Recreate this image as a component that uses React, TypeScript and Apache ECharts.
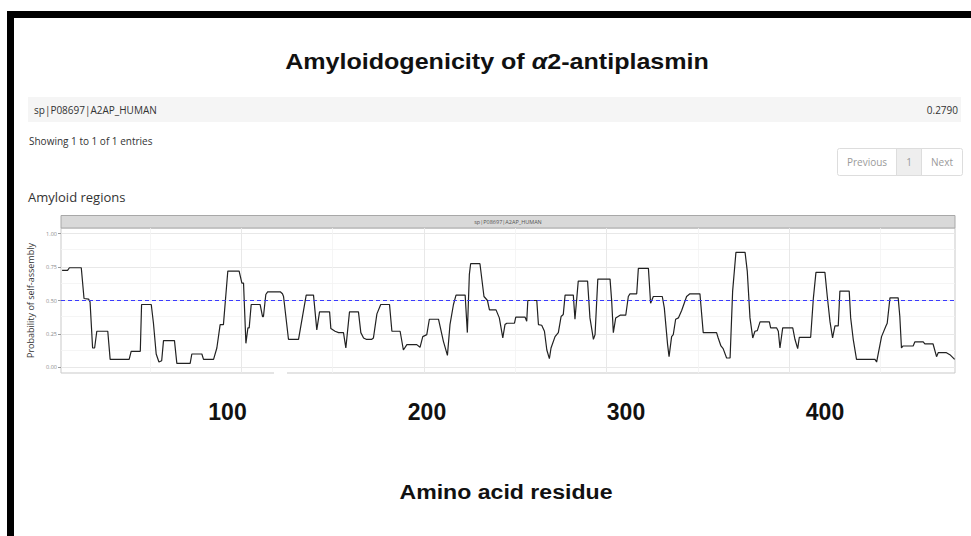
import React, { useEffect, useRef } from "react";
import * as echarts from "echarts";

// Residue positions (x) and probability of self-assembly (y)
const residues = [
  2, 5, 6, 12.5, 14, 16.5, 17.3, 18.7, 19.8, 21, 27, 28.3, 38.7, 39.8, 44.8, 45.5, 50.8, 52, 53.5, 55,
  56.5, 57.5, 63.5, 64.8, 72.1, 73, 78.5, 79.4, 84.9, 86.7, 88.5, 90.3, 92.7, 98.9, 100.4, 101.3, 102.6,
  103.7, 104.4, 105.5, 110.4, 111.7, 112.2, 113.5, 114.5, 121.4, 122.6, 123.2, 125.9, 131.4, 135.6, 139.6,
  141.4, 142.9, 148.4, 149.1, 151.4, 153.3, 156.0, 157.3, 159.3, 164.2, 165.5, 167.0, 168.4, 171.5, 172.4,
  174.3, 176.4, 181.2, 182.5, 187.0, 188.8, 190.7, 196.1, 197.9, 199.4, 201.6, 203.0, 208.0, 210.7, 212.9,
  214.3, 216.2, 217.6, 222.6, 223.8, 224.9, 225.6, 230.7, 232.9, 234.8, 235.9, 239.5, 241.3, 243.2, 244.4,
  245.4, 249.6, 250.3, 255.4, 256.3, 256.9, 261.8, 262.7, 264.5, 266.0, 267.3, 268.7, 269.6, 271.8, 273.6,
  275.1, 276.3, 277.3, 281.8, 282.7, 284.5, 289.6, 290.9, 292.8, 293.7, 295.2, 301.9, 302.8, 303.7, 305.0,
  307.4, 310.5, 311.9, 312.8, 316.5, 317.4, 322.9, 324.1, 325.6, 330.5, 331.6, 333.4, 334.2, 335.6, 336.5,
  337.8, 339.3, 341.1, 343.8, 345.6, 351.1, 352.9, 360.2, 361.1, 362.6, 363.8, 365.7, 367.6, 369.0, 370.8,
  375.8, 377.0, 378.5, 380.0, 381.2, 382.5, 384.0, 389.1, 389.8, 393.1, 394.0, 394.9, 396.4, 401.9, 403.1,
  404.6, 405.5, 411.7, 413.2, 414.6, 419.5, 420.8, 422.3, 423.7, 425.0, 426.8, 427.7, 432.8, 433.6, 435.0,
  436.8, 446.9, 447.8, 450.5, 452.9, 453.6, 455.1, 459.6, 460.5, 461.4, 462.3, 467.8, 468.7, 473.3, 474.2,
  478.7, 480.6, 481.5, 486.0, 487.9, 490.5,
];
const probabilities = [
  0.725, 0.725, 0.745, 0.745, 0.515, 0.51, 0.49, 0.145, 0.145, 0.27, 0.27, 0.06, 0.06, 0.12, 0.12, 0.47, 0.47, 0.33, 0.1, 0.04,
  0.05, 0.2, 0.2, 0.03, 0.03, 0.1, 0.1, 0.06, 0.06, 0.145, 0.32, 0.32, 0.72, 0.72, 0.63, 0.63, 0.18,
  0.295, 0.295, 0.47, 0.47, 0.38, 0.38, 0.545, 0.565, 0.565, 0.55, 0.53, 0.21, 0.21, 0.54, 0.54,
  0.28, 0.415, 0.415, 0.29, 0.27, 0.26, 0.26, 0.145, 0.415, 0.415, 0.26, 0.22, 0.21, 0.21, 0.22,
  0.4, 0.47, 0.47, 0.27, 0.27, 0.13, 0.17, 0.17, 0.15, 0.23, 0.245, 0.36, 0.36, 0.195, 0.09,
  0.32, 0.47, 0.54, 0.54, 0.26, 0.695, 0.775, 0.775, 0.53, 0.5, 0.43, 0.43, 0.37, 0.22, 0.32,
  0.33, 0.33, 0.375, 0.375, 0.345, 0.5, 0.5, 0.32, 0.315, 0.27, 0.13, 0.065, 0.145, 0.23, 0.26,
  0.38, 0.395, 0.54, 0.54, 0.36, 0.645, 0.645, 0.37, 0.21, 0.245, 0.66, 0.66, 0.495, 0.26, 0.37,
  0.39, 0.39, 0.53, 0.55, 0.55, 0.74, 0.74, 0.48, 0.53, 0.53, 0.445, 0.17, 0.08, 0.23, 0.245,
  0.36, 0.37, 0.425, 0.53, 0.55, 0.55, 0.26, 0.26, 0.22, 0.16, 0.14, 0.07, 0.07, 0.57, 0.86,
  0.86, 0.72, 0.37, 0.22, 0.27, 0.275, 0.34, 0.34, 0.295, 0.295, 0.27, 0.145, 0.295, 0.295, 0.21,
  0.14, 0.225, 0.225, 0.52, 0.71, 0.71, 0.53, 0.34, 0.22, 0.31, 0.31, 0.57, 0.57, 0.37, 0.21,
  0.06, 0.06, 0.04, 0.23, 0.31, 0.33, 0.52, 0.52, 0.38, 0.145, 0.16, 0.16, 0.19, 0.19, 0.175,
  0.175, 0.08, 0.11, 0.11, 0.095, 0.06,
];

const threshold = 0.5;
const yTicks = [0, 0.25, 0.5, 0.75, 1];
const yMinorGrid = [0.125, 0.375, 0.625, 0.875];
const xTicks = [100, 200, 300, 400];
const xMinorGrid = [50, 150, 250, 350, 450];
const bigTickLabels = ["100", "200", "300", "400"];

const titleText = "Amyloidogenicity of ";
const titleGreek = "α";
const titleRest = "2-antiplasmin";
const proteinId = "sp|P08697|A2AP_HUMAN";
const proteinScore = "0.2790";

export default function App() {
  const ref = useRef<HTMLDivElement>(null);

  useEffect(() => {
    if (!ref.current) return;
    const chart = echarts.init(ref.current, null, { renderer: "svg" });
    const lineData = residues.map((r, i) => [r, probabilities[i]]);
    const sans = "'Open Sans', 'Noto Sans', sans-serif";
    const arial = "'Liberation Sans', Arial, sans-serif";
    const bigX = [227.5, 427, 626, 825];

    const gridLines: any[] = [];
    yTicks.forEach((v) => gridLines.push({ yAxis: v, lineStyle: { color: "#e8e8e8", width: 1, type: "solid" } }));
    yMinorGrid.forEach((v) => gridLines.push({ yAxis: v, lineStyle: { color: "#f3f3f3", width: 0.8, type: "solid" } }));
    xTicks.forEach((v) => gridLines.push({ xAxis: v, lineStyle: { color: "#e8e8e8", width: 1, type: "solid" } }));
    xMinorGrid.forEach((v) => gridLines.push({ xAxis: v, lineStyle: { color: "#f3f3f3", width: 0.8, type: "solid" } }));

    const option: any = {
      animation: false,
      backgroundColor: "#ffffff",
      grid: {
        left: 61,
        top: 228,
        right: 16,
        bottom: 163,
        show: true,
        borderColor: "#c9c9c9",
        borderWidth: 1,
        backgroundColor: "transparent",
      },
      xAxis: {
        type: "value",
        min: 1.4,
        max: 490.7,
        axisLine: { show: false },
        axisTick: { show: true, customValues: xTicks, length: 3, lineStyle: { color: "#9a9a9a" } },
        axisLabel: { show: false },
        splitLine: { show: false },
      },
      yAxis: {
        type: "value",
        min: -0.042,
        max: 1.042,
        name: "Probability of self-assembly",
        nameLocation: "middle",
        nameGap: 16,
        nameRotate: 90,
        nameTextStyle: { fontSize: 9, color: "#333", fontFamily: sans },
        axisLine: { show: false },
        axisTick: { show: true, customValues: yTicks, length: 3, lineStyle: { color: "#9a9a9a" } },
        axisLabel: {
          show: true,
          customValues: yTicks,
          formatter: (v: number) => v.toFixed(2),
          fontSize: 5.5,
          color: "#8a8a8a",
          margin: 4,
          fontFamily: sans,
        },
        splitLine: { show: false },
      },
      series: [
        {
          type: "line",
          name: "grid",
          data: [],
          silent: true,
          z: 1,
          markLine: { silent: true, z: 1, symbol: "none", label: { show: false }, data: gridLines, animation: false },
        },
        {
          type: "line",
          name: proteinId,
          data: lineData,
          showSymbol: false,
          symbol: "none",
          z: 5,
          lineStyle: { color: "#222222", width: 1.2 },
          markLine: {
            silent: true,
            z: 6,
            symbol: "none",
            label: { show: false },
            lineStyle: { color: "#3a3aff", width: 1, type: [4, 3] },
            data: [{ yAxis: threshold }],
            animation: false,
          },
        },
      ],
      graphic: [
        { type: "rect", shape: { x: 7, y: 11, width: 964, height: 7 }, style: { fill: "#000" }, z: 50 },
        { type: "rect", shape: { x: 7, y: 11, width: 7, height: 525 }, style: { fill: "#000" }, z: 50 },
        {
          type: "text",
          x: 497,
          y: 62,
          scaleX: 1.14,
          style: {
            text: `{b|${titleText}}{i|${titleGreek}}{b|${titleRest}}`,
            align: "center",
            verticalAlign: "middle",
            rich: {
              b: { fontSize: 22, fontWeight: "bold", fontFamily: arial, fill: "#111" },
              i: { fontSize: 22, fontWeight: "bold", fontStyle: "italic", fontFamily: arial, fill: "#111" },
            },
          },
        },
        { type: "rect", shape: { x: 28, y: 97, width: 933, height: 25 }, style: { fill: "#f5f5f5" } },
        {
          type: "text", x: 34, y: 109.5,
          style: { text: proteinId, fontSize: 10, fontFamily: sans, fill: "#333", align: "left", verticalAlign: "middle" },
        },
        {
          type: "text", x: 958, y: 109.5,
          style: { text: proteinScore, fontSize: 10, fontFamily: sans, fill: "#333", align: "right", verticalAlign: "middle" },
        },
        {
          type: "text", x: 29, y: 141,
          style: { text: "Showing 1 to 1 of 1 entries", fontSize: 10, fontFamily: sans, fill: "#333", align: "left", verticalAlign: "middle" },
        },
        { type: "rect", shape: { x: 837.5, y: 148.5, width: 125, height: 27, r: 2 }, style: { fill: "#fff", stroke: "#dddddd", lineWidth: 1 } },
        { type: "rect", shape: { x: 896.5, y: 148.5, width: 25, height: 27 }, style: { fill: "#eeeeee", stroke: "#dddddd", lineWidth: 1 } },
        { type: "text", x: 867, y: 162, style: { text: "Previous", fontSize: 10, fontFamily: sans, fill: "#9a9a9a", align: "center", verticalAlign: "middle" } },
        { type: "text", x: 909, y: 162, style: { text: "1", fontSize: 10, fontFamily: sans, fill: "#9a9a9a", align: "center", verticalAlign: "middle" } },
        { type: "text", x: 942, y: 162, style: { text: "Next", fontSize: 10, fontFamily: sans, fill: "#9a9a9a", align: "center", verticalAlign: "middle" } },
        {
          type: "text", x: 28, y: 197,
          style: { text: "Amyloid regions", fontSize: 13, fontFamily: sans, fill: "#333", align: "left", verticalAlign: "middle" },
        },
        { type: "rect", shape: { x: 61, y: 215.5, width: 894, height: 12.5 }, style: { fill: "#d9d9d9", stroke: "#a8a8a8", lineWidth: 1 } },
        {
          type: "text", x: 508, y: 222,
          style: { text: proteinId, fontSize: 5.5, fontFamily: sans, fill: "#555", align: "center", verticalAlign: "middle" },
        },
        { type: "rect", shape: { x: 274, y: 371.5, width: 13, height: 3.5 }, style: { fill: "#fff" }, z: 100 },
        ...bigTickLabels.map((t, i) => ({
          type: "text",
          x: bigX[i],
          y: 411.5,
          style: { text: t, fontSize: 23, fontWeight: "bold", fontFamily: arial, fill: "#111", align: "center", verticalAlign: "middle" },
        })),
        {
          type: "text", x: 506, y: 492,
          scaleX: 1.1,
          style: { text: "Amino acid residue", fontSize: 21, fontWeight: "bold", fontFamily: arial, fill: "#111", align: "center", verticalAlign: "middle" },
        },
      ],
    };
    chart.setOption(option);
    return () => chart.dispose();
  }, []);

  return (
    <div
      ref={ref}
      style={{ position: "absolute", left: 0, top: 0, width: 971, height: 536, background: "#fff" }}
    />
  );
}
